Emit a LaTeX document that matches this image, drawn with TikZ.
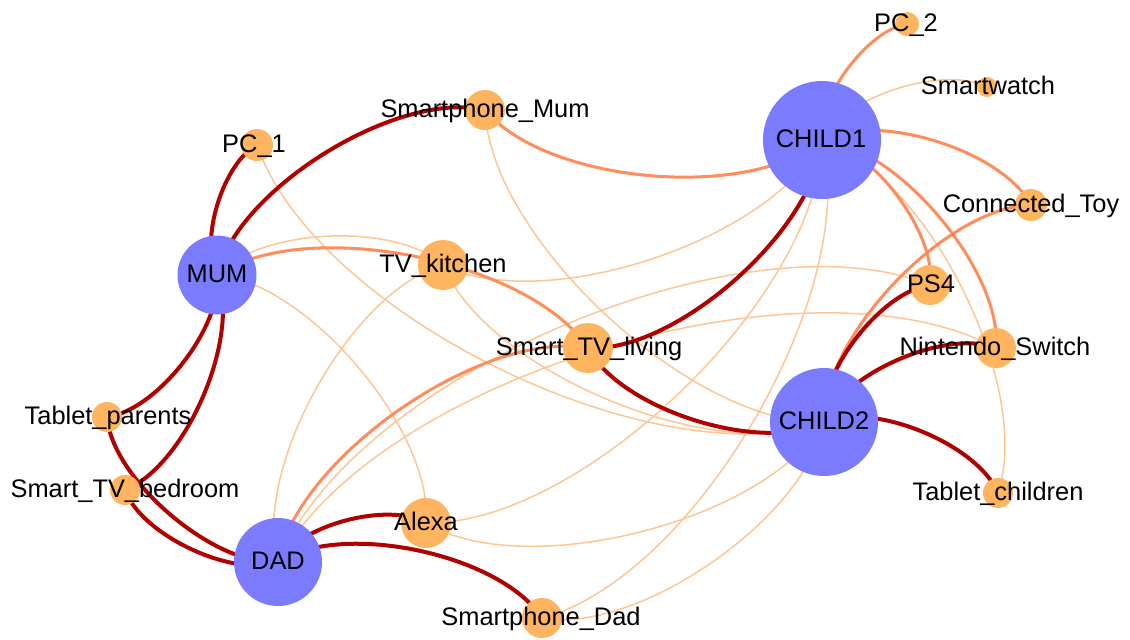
\documentclass[tikz,border=0pt]{standalone}
\usepackage{fontspec}
\setmainfont{Liberation Sans}
\pgfdeclarelayer{bg}
\pgfdeclarelayer{edgelayer}
\pgfsetlayers{bg,edgelayer,main}
\definecolor{personc}{RGB}{123,123,255}
\definecolor{devicec}{RGB}{255,180,95}
\definecolor{strongc}{RGB}{176,0,0}
\definecolor{midc}{RGB}{255,140,90}
\definecolor{weakc}{RGB}{255,198,148}
\tikzset{
  pers/.style={circle,fill=personc,draw=none,inner sep=0pt,minimum size=#1 pt},
  dev/.style={circle,fill=devicec,draw=none,inner sep=0pt,minimum size=#1 pt},
  lbl/.style={font=\fontsize{12.7}{15}\selectfont,inner sep=0pt,anchor=base,text=black},
  gc/.style={bend right=45,looseness=0.7224},
  e3/.style={draw=strongc,line width=2pt},
  e2/.style={draw=midc,line width=1.5pt},
  e1/.style={draw=weakc,line width=0.75pt}
}
\begin{document}
\begin{tikzpicture}[x=0.5pt,y=0.5pt]
\begin{pgfonlayer}{bg}
\path[use as bounding box,fill=white] (0,0) rectangle (1130,-639);
\end{pgfonlayer}
% circles
\node[pers=39.5] (MUM) at (217,-275) {};
\node[pers=44] (DAD) at (278,-562) {};
\node[pers=59] (C1) at (822,-140) {};
\node[pers=54] (C2) at (824,-422) {};
\node[dev=16] (PC1) at (257,-145) {};
\node[dev=20] (SPM) at (485,-110) {};
\node[dev=25] (TVK) at (443,-265) {};
\node[dev=25] (STL) at (588,-348) {};
\node[dev=25] (ALX) at (426,-523) {};
\node[dev=20] (SPD) at (542,-618) {};
\node[dev=15] (TBP) at (107,-417) {};
\node[dev=15] (STB) at (125,-490) {};
\node[dev=12] (PC2) at (907,-24) {};
\node[dev=10] (SW) at (987,-87) {};
\node[dev=16] (TOY) at (1031,-205) {};
\node[dev=20] (PS4) at (930,-285) {};
\node[dev=20] (NSW) at (996,-348) {};
\node[dev=15] (TBC) at (998,-493) {};
% edges
\begin{pgfonlayer}{edgelayer}
% light
\draw[e1] (TVK.center) to[gc] (MUM.center);
\draw[e1] (ALX.center) to[gc] (MUM.center);
\draw[e1] (TVK.center) to[gc] (DAD.center);
\draw[e1] (PS4.center) to[gc] (DAD.center);
\draw[e1] (NSW.center) to[gc] (DAD.center);
\draw[e1] (SW.center) to[gc] (C1.center);
\draw[e1] (TBC.center) to[gc] (C1.center);
\draw[e1] (TVK.center) to[gc] (C1.center);
\draw[e1] (ALX.center) to[gc] (C1.center);
\draw[e1] (SPD.center) to[gc] (C1.center);
\draw[e1] (PC1.center) to[gc] (C2.center);
\draw[e1] (TVK.center) to[gc] (C2.center);
\draw[e1] (SPM.center) to[gc] (C2.center);
\draw[e1] (ALX.center) to[gc] (C2.center);
\draw[e1] (SPD.center) to[gc] (C2.center);
% medium
\draw[e2] (STL.center) to[gc] (MUM.center);
\draw[e2] (STL.center) to[gc] (DAD.center);
\draw[e2] (SPM.center) to[gc] (C1.center);
\draw[e2] (PC2.center) to[gc] (C1.center);
\draw[e2] (TOY.center) to[gc] (C1.center);
\draw[e2] (PS4.center) to[gc] (C1.center);
\draw[e2] (NSW.center) to[gc] (C1.center);
\draw[e2] (TOY.center) to[gc] (C2.center);
% strong
\draw[e3] (PC1.center) to[gc] (MUM.center);
\draw[e3] (SPM.center) to[gc] (MUM.center);
\draw[e3] (TBP.center) to[gc] (MUM.center);
\draw[e3] (STB.center) to[gc] (MUM.center);
\draw[e3] (TBP.center) to[gc] (DAD.center);
\draw[e3] (STB.center) to[gc] (DAD.center);
\draw[e3] (ALX.center) to[gc] (DAD.center);
\draw[e3] (SPD.center) to[gc] (DAD.center);
\draw[e3] (STL.center) to[gc] (C1.center);
\draw[e3] (STL.center) to[gc] (C2.center);
\draw[e3] (PS4.center) to[gc] (C2.center);
\draw[e3] (NSW.center) to[gc] (C2.center);
\draw[e3] (TBC.center) to[gc] (C2.center);
\end{pgfonlayer}
% labels
\node[lbl] (MUM-t) at (217,-282) {MUM};
\node[lbl] (DAD-t) at (278,-569) {DAD};
\node[lbl] (C1-t) at (821,-147) {CHILD1};
\node[lbl] (C2-t) at (824,-429) {CHILD2};
\node[lbl] (PC1-t) at (254,-152) {PC\_1};
\node[lbl] (SPM-t) at (485,-117) {Smartphone\_Mum};
\node[lbl] (TVK-t) at (443,-272) {TV\_kitchen};
\node[lbl] (STL-t) at (589,-355) {Smart\_TV\_living};
\node[lbl] (ALX-t) at (426,-530) {Alexa};
\node[lbl] (SPD-t) at (541,-625) {Smartphone\_Dad};
\node[lbl] (TBP-t) at (108,-424) {Tablet\_parents};
\node[lbl] (STB-t) at (125,-497) {Smart\_TV\_bedroom};
\node[lbl] (PC2-t) at (906,-31) {PC\_2};
\node[lbl] (SW-t) at (988,-94) {Smartwatch};
\node[lbl] (TOY-t) at (1031,-212) {Connected\_Toy};
\node[lbl] (PS4-t) at (931,-292) {PS4};
\node[lbl] (NSW-t) at (995,-355) {Nintendo\_Switch};
\node[lbl] (TBC-t) at (998,-500) {Tablet\_children};
\end{tikzpicture}
\end{document}
